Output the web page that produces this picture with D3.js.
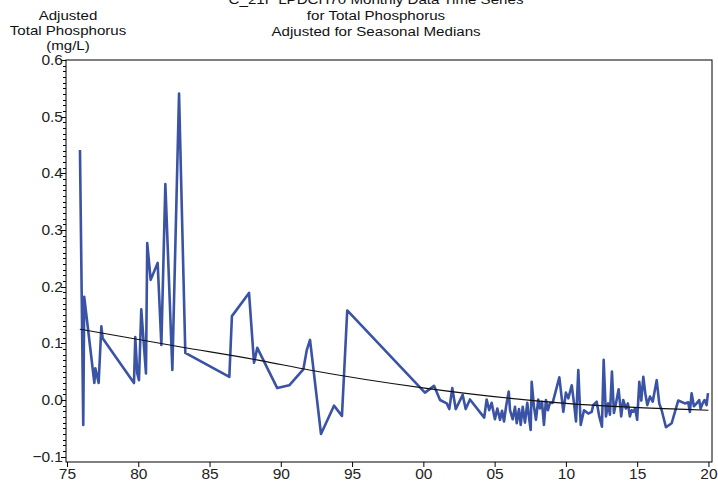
<!DOCTYPE html>
<html>
<head>
<meta charset="utf-8">
<script src="https://cdn.jsdelivr.net/npm/d3@7"></script>
<style>
html,body{margin:0;padding:0;background:#fff;}
svg{display:block;font-family:"Liberation Sans",Arial,sans-serif;}
</style>
</head>
<body>
<svg id="chart" width="718" height="485"></svg>
<script>
// ---- data ----
const titleLines = ["C_21F LPDCH70 Monthly Data Time Series", "for Total Phosphorus", "Adjusted for Seasonal Medians"];
const yLabelLines = ["Adjusted", "Total Phosphorus", "(mg/L)"];
const xTickValues = [1975, 1980, 1985, 1990, 1995, 2000, 2005, 2010, 2015, 2020];
const xTickLabels = ["75", "80", "85", "90", "95", "00", "05", "10", "15", "20"];
const yTickValues = [-0.1, 0.0, 0.1, 0.2, 0.3, 0.4, 0.5, 0.6];

const years = [
 1975.91,1976.14,1976.21,1976.92,1976.99,1977.22,1977.41,1977.50,1979.70,1979.79,
 1979.93,1980.05,1980.21,1980.54,1980.63,1980.87,1981.36,1981.62,1981.90,1982.39,
 1982.86,1983.30,1986.39,1986.57,1987.77,1988.12,1988.35,1989.75,1990.59,1991.58,
 1991.82,1992.05,1992.82,1993.73,1994.29,1994.66,2000.11,2000.75,2001.17,2001.64,
 2001.82,2002.03,2002.27,2002.76,2002.97,2003.27,2004.27,2004.44,2004.62,2004.79,
 2005.02,2005.19,2005.38,2005.52,2005.66,2005.80,2005.99,2006.08,2006.27,2006.43,
 2006.55,2006.71,2006.83,2006.97,2007.13,2007.29,2007.43,2007.53,2007.60,2007.76,
 2007.90,2008.06,2008.18,2008.32,2008.46,2008.60,2008.74,2008.88,2009.07,2009.54,
 2009.82,2010.00,2010.17,2010.41,2010.57,2010.71,2010.87,2011.04,2011.27,2011.57,
 2011.81,2011.92,2012.16,2012.34,2012.53,2012.65,2012.81,2012.97,2013.09,2013.23,
 2013.37,2013.51,2013.70,2013.88,2014.02,2014.21,2014.35,2014.49,2014.61,2014.72,
 2014.86,2015.00,2015.15,2015.29,2015.43,2015.57,2015.71,2015.90,2016.09,2016.37,
 2016.55,2016.72,2017.02,2017.42,2017.65,2017.88,2018.35,2018.58,2018.70,2018.82,
 2018.98,2019.17,2019.35,2019.45,2019.59,2019.73,2019.87,2019.97
];
const adjustedTP = [
 0.441,-0.044,0.182,0.030,0.056,0.030,0.130,0.109,0.030,0.111,
 0.047,0.035,0.160,0.047,0.277,0.212,0.242,0.097,0.381,0.053,
 0.541,0.083,0.041,0.148,0.189,0.066,0.092,0.021,0.026,0.054,
 0.088,0.106,-0.060,-0.010,-0.028,0.158,0.013,0.025,0.000,-0.006,
 -0.016,0.021,-0.016,0.009,-0.016,0.001,-0.031,0.001,-0.018,-0.005,
 -0.034,-0.015,-0.035,-0.019,-0.038,-0.012,0.015,-0.018,-0.034,-0.012,
 -0.041,-0.016,-0.044,-0.012,-0.040,-0.005,-0.034,-0.053,0.032,-0.012,
 -0.035,0.001,-0.015,-0.003,-0.044,0.000,-0.018,-0.005,-0.005,0.040,
 -0.021,0.013,0.003,0.026,-0.006,-0.038,0.053,-0.044,-0.018,-0.024,
 -0.021,-0.009,-0.003,-0.029,-0.047,0.071,-0.029,-0.006,-0.026,0.050,
 -0.023,-0.006,0.019,-0.029,0.000,-0.015,-0.006,-0.029,-0.018,-0.021,
 -0.015,-0.035,0.032,-0.001,0.041,0.012,-0.009,0.006,-0.003,0.035,
 -0.006,-0.018,-0.048,-0.041,-0.021,-0.001,-0.006,-0.004,-0.021,0.012,
 -0.011,-0.006,0.000,-0.015,-0.006,0.000,-0.009,0.012
];
const trendYears = [1975.9, 1982.9, 1988.5, 1992.0, 2000.1, 2010.0, 2020.0];
const trendValues = [0.125, 0.094, 0.070, 0.053, 0.021, -0.006, -0.018];

// ---- layout ----
const svg = d3.select("#chart");
const pLeft = 66, pRight = 712, pTop = 60, pBottom = 462;
const x = d3.scaleLinear().domain([1974.93, 2020.25]).range([pLeft, pRight]);
const y = d3.scaleLinear().domain([-0.1094, 0.6]).range([pBottom, pTop]);

// frame
svg.append("rect").attr("x", pLeft).attr("y", pTop).attr("width", pRight - pLeft).attr("height", pBottom - pTop)
  .attr("fill", "none").attr("stroke", "#000").attr("stroke-width", 1);

// y minor ticks
const yMinor = d3.range(-10, 61).map(d => d / 100);
svg.append("g").selectAll("line").data(yMinor).join("line")
  .attr("x1", pLeft).attr("x2", d => (Math.round(d * 100) % 10 === 0) ? pLeft - 5 : pLeft - 3)
  .attr("y1", d => Math.round(y(d)) + 0.5).attr("y2", d => Math.round(y(d)) + 0.5)
  .attr("stroke", "#000").attr("stroke-width", 1);

// y labels
svg.append("g").selectAll("text").data(yTickValues).join("text")
  .attr("x", pLeft - 3).attr("y", d => y(d) + 5)
  .attr("text-anchor", "end").attr("font-size", 15.5).attr("fill", "#222")
  .text(d => d3.format(".1f")(d));

// x ticks
const xAxis = d3.axisBottom(x).tickValues(xTickValues).tickSize(5).tickPadding(1)
  .tickFormat((d, i) => xTickLabels[i]);
const gx = svg.append("g").attr("transform", `translate(0,${pBottom})`).call(xAxis);
gx.select(".domain").remove();
gx.selectAll("line").attr("stroke", "#000");
gx.selectAll("text").attr("font-size", 15.5).attr("fill", "#222")
  .attr("font-family", "Liberation Sans, Arial, sans-serif");

// clip
svg.append("clipPath").attr("id", "clip").append("rect")
  .attr("x", pLeft).attr("y", pTop).attr("width", pRight - pLeft).attr("height", pBottom - pTop);

// data line
const pts = years.map((yr, i) => [yr, adjustedTP[i]]);
svg.append("path").attr("clip-path", "url(#clip)")
  .attr("d", d3.line().x(d => x(d[0])).y(d => y(d[1]))(pts))
  .attr("fill", "none").attr("stroke", "#3a53a4").attr("stroke-width", 2.6)
  .attr("stroke-linejoin", "round");

// trend
const tpts = trendYears.map((yr, i) => [yr, trendValues[i]]);
svg.append("path")
  .attr("d", d3.line().curve(d3.curveMonotoneX).x(d => x(d[0])).y(d => y(d[1]))(tpts))
  .attr("fill", "none").attr("stroke", "#111").attr("stroke-width", 1.1);

// title
svg.append("g").selectAll("text").data(titleLines).join("text")
  .attr("transform", (d, i) => `translate(376,${4 + i * 16}) scale(1.12,1)`)
  .attr("text-anchor", "middle").attr("font-size", 13.5).attr("fill", "#111")
  .text(d => d);

// y axis title
svg.append("g").selectAll("text").data(yLabelLines).join("text")
  .attr("transform", (d, i) => `translate(68,${20 + i * 15}) scale(1.16,1)`)
  .attr("text-anchor", "middle").attr("font-size", 13).attr("fill", "#111")
  .text(d => d);
</script>
</body>
</html>
